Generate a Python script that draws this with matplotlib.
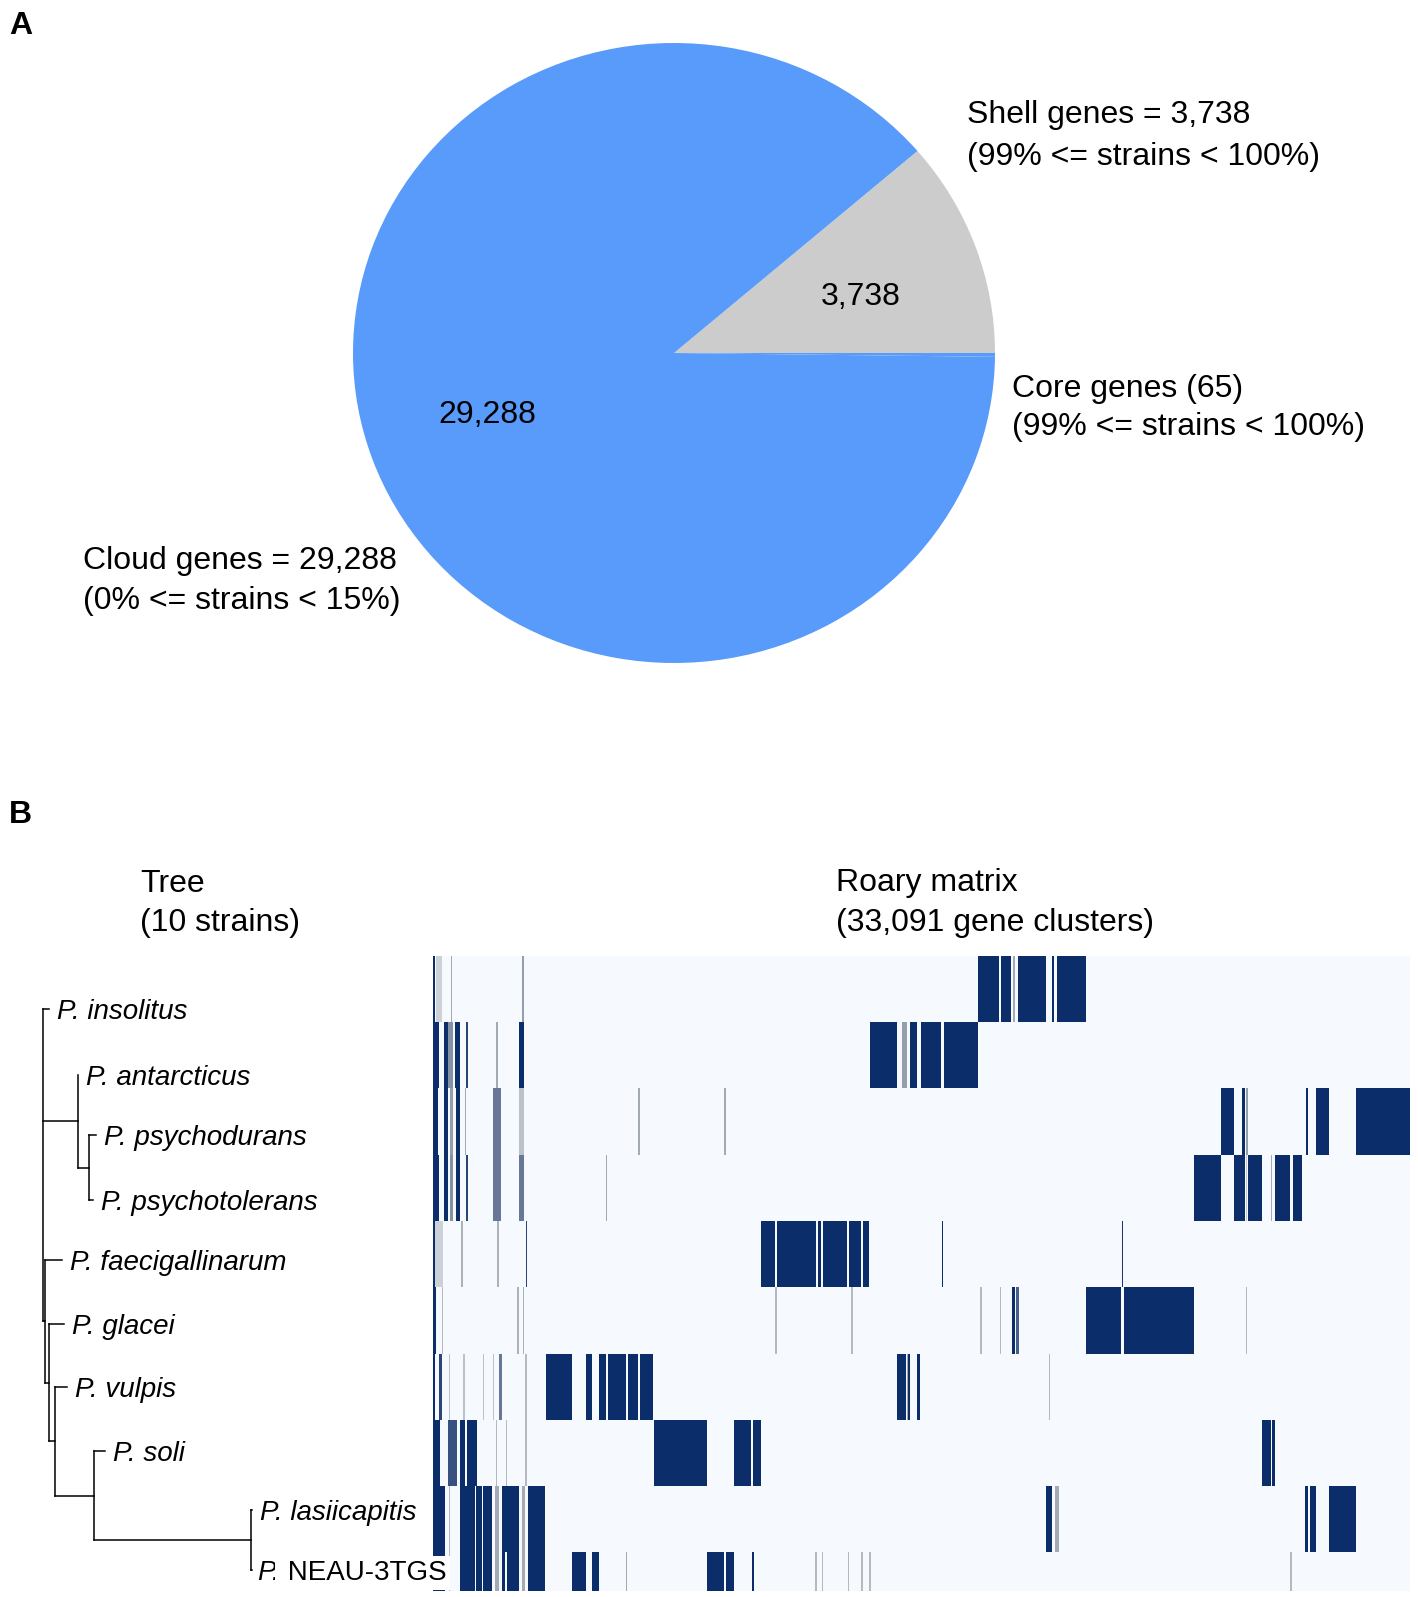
import numpy as np
import matplotlib
matplotlib.use('Agg')
import matplotlib.pyplot as plt
from matplotlib.colors import LinearSegmentedColormap

plt.rcParams['font.family'] = 'Liberation Sans'

# Panel A: gene category counts
pie_names = ['Shell', 'Cloud', 'Core']
pie_counts = [3738, 29288, 65]
pie_colors = ['#cccccc', '#589bfa', '#589bfa']

# Panel B: tree (leaves in plot order) and Roary presence matrix
n_clusters = 33091
strains = ['insolitus', 'antarcticus', 'psychodurans', 'psychotolerans', 'faecigallinarum',
           'glacei', 'vulpis', 'soli', 'lasiicapitis', 'NEAU-3TGS']
leaf_depth = [49, 78, 96, 93, 62, 64, 67, 105, 252, 252]
leaf_y = [1009, 1075, 1135, 1200, 1260, 1324, 1387, 1451, 1510, 1570]
leaf_parent = ['root', 'ant', 'psy', 'psy', 'faeci', 'glacei', 'vulpis', 'soli', 'lasi', 'lasi']
clade_names = ['root', 'ant', 'psy', 'faeci', 'glacei', 'vulpis', 'soli', 'lasi']
clade_depth = [43, 78, 89, 45, 49, 55, 94, 251]
clade_parent = [None, 'root', 'ant', 'root', 'faeci', 'glacei', 'vulpis', 'soli']

# presence blocks per strain: (first cluster, last cluster, intensity)
row_0 = [(0, 68, 1.0), (102, 305, 0.25), (610, 660, 0.5), (3030, 3080, 0.55),
         (18459, 19170, 1.0), (19240, 19577, 1.0), (19650, 19720, 0.5),
         (19814, 20762, 1.0), (20966, 21033, 1.0), (21135, 22117, 1.0)]
row_1 = [(0, 203, 1.0), (373, 508, 1.0), (508, 677, 0.6), (745, 914, 1.0), (1118, 1185, 0.9),
         (2150, 2200, 0.5), (2913, 3082, 1.0), (14801, 15716, 1.0), (15885, 16054, 0.55),
         (16156, 16393, 1.0), (16529, 17206, 1.0), (17308, 18459, 1.0)]
row_2 = [(0, 170, 1.0), (373, 508, 1.0), (576, 677, 0.55), (779, 914, 1.0), (1084, 1120, 0.5),
         (2032, 2303, 0.7), (2913, 3082, 0.35), (6960, 7000, 0.5), (9870, 9910, 0.5),
         (26690, 27130, 1.0), (27401, 27503, 1.0), (27537, 27600, 0.55),
         (29569, 29637, 1.0), (29908, 30348, 1.0), (31263, 33091, 1.0)]
row_3 = [(0, 203, 1.0), (373, 508, 1.0), (576, 677, 0.6), (779, 914, 1.0), (1118, 1185, 0.9),
         (2032, 2303, 0.7), (2913, 3082, 0.7), (5870, 5910, 0.5),
         (25775, 26690, 1.0), (27130, 27503, 1.0), (27537, 27570, 0.3), (27604, 28079, 1.0),
         (28384, 28424, 0.5), (28519, 29027, 1.0), (29129, 29434, 1.0)]
row_4 = [(0, 68, 1.0), (68, 339, 0.25), (960, 1000, 0.45), (2180, 2220, 0.45), (3150, 3200, 0.9),
         (11109, 11580, 1.0), (11650, 12970, 1.0), (13040, 13150, 1.0), (13210, 14020, 1.0),
         (14090, 14500, 1.0), (14570, 14767, 1.0), (17240, 17290, 1.0), (23336, 23380, 0.95)]
row_5 = [(0, 102, 1.0), (300, 340, 0.4), (2860, 2900, 0.45), (3040, 3080, 0.45),
         (11600, 11640, 0.4), (14170, 14210, 0.4), (18540, 18580, 0.4), (19190, 19230, 0.4),
         (19611, 19700, 1.0), (19760, 19848, 0.8), (22117, 23310, 1.0), (23404, 25775, 1.0),
         (27540, 27580, 0.4)]
row_6 = [(0, 68, 1.0), (203, 305, 0.9), (540, 580, 0.35), (1030, 1070, 0.35), (1680, 1720, 0.35),
         (2020, 2060, 0.35), (2235, 2337, 0.7), (3130, 3170, 0.4), (3827, 4708, 1.0),
         (5182, 5385, 1.0), (5622, 5870, 1.0), (5930, 6540, 1.0), (6600, 6950, 1.0),
         (7010, 7451, 1.0), (15716, 16020, 1.0), (16040, 16090, 0.5), (16090, 16156, 1.0),
         (16393, 16495, 1.0), (20850, 20890, 0.4)]
row_7 = [(0, 237, 1.0), (508, 813, 0.85), (914, 1100, 1.0), (1140, 1490, 1.0),
         (2120, 2160, 0.4), (2460, 2500, 0.4), (3130, 3170, 0.4), (7485, 9280, 1.0),
         (10195, 10780, 1.0), (10840, 11109, 1.0), (28079, 28384, 1.0), (28420, 28519, 1.0)]
row_8 = [(0, 406, 1.0), (540, 580, 0.4), (914, 1420, 1.0), (1460, 1660, 1.0), (1700, 1998, 1.0),
         (2100, 2235, 0.5), (2337, 2913, 1.0), (3000, 3120, 0.5), (3218, 3793, 1.0),
         (20762, 20966, 1.0), (21067, 21203, 0.5), (29535, 29637, 1.0), (29705, 29908, 1.0),
         (30348, 31263, 1.0)]
row_9 = [(0, 406, 1.0), (540, 580, 0.4), (914, 1420, 1.0), (1460, 1660, 1.0), (1700, 1998, 1.0),
         (2100, 2235, 0.5), (2337, 2440, 1.0), (2500, 2913, 1.0), (3000, 3120, 0.5),
         (3218, 3793, 1.0), (4708, 5182, 1.0), (5385, 5622, 1.0), (6520, 6560, 0.5),
         (9280, 9860, 1.0), (9920, 10195, 1.0), (10805, 10872, 1.0),
         (12950, 12990, 0.4), (13160, 13200, 0.4), (14040, 14080, 0.4), (14510, 14550, 0.4),
         (14780, 14820, 0.4), (29040, 29080, 0.4)]
matrix_rows = [row_0, row_1, row_2, row_3, row_4, row_5, row_6, row_7, row_8, row_9]

W, H = 1418, 1597
fig = plt.figure(figsize=(W / 100, H / 100), dpi=100)

# ---- pie (panel A), drawn slightly wider than tall like the original
cx, cy, rx, ry = 674, 353, 321, 310
ax_pie = fig.add_axes([(cx - rx) / W, 1 - (cy + ry) / H, 2 * rx / W, 2 * ry / H])
wedges, _ = ax_pie.pie(pie_counts, colors=pie_colors, startangle=0, counterclock=True,
                       radius=1, wedgeprops=dict(linewidth=0))
label_dy = [-0.035, 0.012, 0.0]
for w, c, dy in zip(wedges, pie_counts, label_dy):
    if c < 1000:
        continue
    mid = np.deg2rad((w.theta1 + w.theta2) / 2)
    ax_pie.text(0.62 * np.cos(mid), 0.62 * np.sin(mid) + dy, '{:,}'.format(c),
                ha='center', va='center', fontsize=23)
ax_pie.set_xlim(-1, 1)
ax_pie.set_ylim(-1, 1)
ax_pie.set_aspect('auto')
ax_pie.axis('off')

# ---- Roary matrix
mat_top, mat_bot = 955.7, 1591
row_h = 66.3
ax_m = fig.add_axes([433 / W, 1 - mat_bot / H, 977 / W, (mat_bot - mat_top) / H])
cmap = LinearSegmentedColormap.from_list('roary', ['#f6f9fd', '#a3aab3', '#0b2d69'])
ax_m.set_facecolor('#f6f9fd')
for i, blocks in enumerate(matrix_rows):
    xr = [(s, e - s) for s, e, v in blocks]
    cols = [cmap(v) for s, e, v in blocks]
    ax_m.broken_barh(xr, (i, 1), facecolors=cols, linewidth=0)
ax_m.set_xlim(0, n_clusters)
ax_m.set_ylim((mat_bot - mat_top) / row_h, 0)
ax_m.set_xticks([])
ax_m.set_yticks([])
for sp in ax_m.spines.values():
    sp.set_visible(False)

# ---- overlay in pixel space: tree + texts
ov = fig.add_axes([0, 0, 1, 1])
ov.set_xlim(0, W)
ov.set_ylim(H, 0)
ov.axis('off')
ov.set_zorder(5)
ov.patch.set_visible(False)

depth = dict(zip(clade_names, clade_depth))
children = {n: [] for n in clade_names}
for y, p in zip(leaf_y, leaf_parent):
    children[p].append(('leaf', y))
for n, p in zip(clade_names, clade_parent):
    if p is not None:
        children[p].append(('clade', n))


def clade_y(n):
    ys = [c[1] if c[0] == 'leaf' else clade_y(c[1]) for c in children[n]]
    return (min(ys) + max(ys)) / 2


lw = 1.1
for n in clade_names:
    ys = [c[1] if c[0] == 'leaf' else clade_y(c[1]) for c in children[n]]
    ov.plot([depth[n], depth[n]], [min(ys), max(ys)], color='black', lw=lw)
for n, p in zip(clade_names, clade_parent):
    if p is not None:
        y = clade_y(n)
        ov.plot([depth[p], depth[n]], [y, y], color='black', lw=lw)

sp_fs = 20
for i, (name, d, y, p) in enumerate(zip(strains, leaf_depth, leaf_y, leaf_parent)):
    ov.plot([depth[p], d], [y, y], color='black', lw=lw)
    box = None
    if i >= 8:
        box = dict(boxstyle='square,pad=0.15', facecolor='white', edgecolor='none')
    if name.startswith('NEAU'):
        t = ov.text(d + 5, y + 10, 'P.', fontsize=sp_fs, style='italic',
                    va='baseline', ha='left', bbox=box)
        ov.annotate(' ' + name, xy=(1, 0), xycoords=t, fontsize=sp_fs,
                    va='bottom', ha='left', bbox=box)
    else:
        ov.text(d + 8, y + 10, 'P. ' + name, fontsize=sp_fs, style='italic',
                va='baseline', ha='left', bbox=box)

# panel letters and headers
ov.text(9, 34, 'A', fontsize=23, fontweight='bold', va='baseline')
ov.text(9, 823, 'B', fontsize=23, fontweight='bold', va='baseline')

fs = 23
ov.text(967, 123.5, 'Shell genes = 3,738', fontsize=fs, va='baseline')
ov.text(967, 165.5, '(99% <= strains < 100%)', fontsize=fs, va='baseline')
ov.text(1012, 397.5, 'Core genes (65)', fontsize=fs, va='baseline')
ov.text(1012, 435.5, '(99% <= strains < 100%)', fontsize=fs, va='baseline')
ov.text(83, 568.5, 'Cloud genes = 29,288', fontsize=fs, va='baseline')
ov.text(83, 608.5, '(0% <= strains < 15%)', fontsize=fs, va='baseline')

ov.text(140, 891.5, 'Tree', fontsize=fs, va='baseline')
ov.text(140, 931.5, '(10 strains)', fontsize=fs, va='baseline')
ov.text(836, 891.5, 'Roary matrix', fontsize=fs, va='baseline')
ov.text(836, 931.5, '(33,091 gene clusters)', fontsize=fs, va='baseline')

fig.savefig('out.png', dpi=100, facecolor='white')
plt.close()
